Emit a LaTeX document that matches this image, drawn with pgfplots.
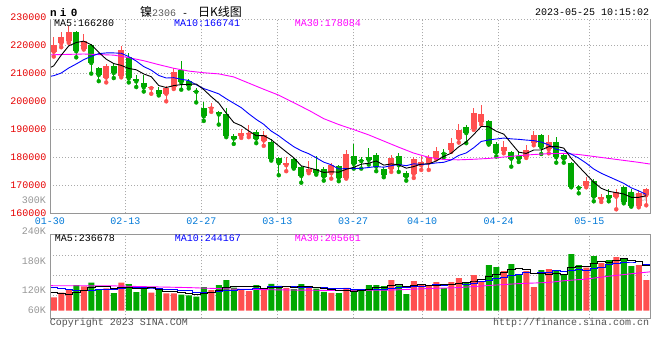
\documentclass[border=0pt]{standalone}
\usepackage{pgfplots}
\pgfplotsset{compat=1.18}
\usepackage{pgfplotstable}
\usepackage{fontspec}
\setmainfont{Liberation Mono}
\newfontfamily\cjk{Noto Sans CJK SC}
\newfontfamily\sansf{Liberation Sans}
\definecolor{cred}{RGB}{255,80,80}
\definecolor{cgreen}{RGB}{0,168,0}
\definecolor{gridgray}{RGB}{170,170,170}
\definecolor{framegray}{RGB}{150,150,150}
\definecolor{ylred}{RGB}{230,0,0}
\definecolor{xblue}{RGB}{0,120,215}
\definecolor{kgray}{RGB}{150,150,150}
\definecolor{mablue}{RGB}{0,0,255}
\definecolor{mamag}{RGB}{255,0,255}
\definecolor{copygray}{RGB}{80,80,80}
\definecolor{titlegray}{RGB}{90,90,90}

% price candles: i open high low close
\pgfplotstableread{
i O H L C
0 217700 223100 216000 220100
1 220700 224700 219300 222900
2 221400 226800 220900 224800
4 218800 224100 218500 221700
7 208500 213300 206750 212500
9 209050 219800 208550 218450
13 204700 205450 202700 205200
15 202700 205300 200000 204600
16 205000 211800 204400 210600
21 197450 199400 196250 197950
25 187670 190070 186950 188850
26 188150 191500 187200 188640
28 186000 189350 184100 187900
31 177180 180050 175040 177900
34 174790 178620 174320 175970
37 174320 177900 172390 177400
39 172640 182660 172390 181230
45 175970 180980 174790 179800
48 174070 180260 172640 179550
49 177180 180510 175500 178370
50 178120 180980 175500 180050
51 179800 183840 179330 182410
53 182660 186960 181950 185270
54 186700 191720 185270 189820
56 190290 197700 189820 195800
57 192690 198660 191720 195550
60 182380 185710 181430 183570
63 180240 184520 179760 182620
64 185240 189520 184290 187860
66 182860 187860 181430 185480
71 169760 173100 169290 171430
73 165000 166900 164050 165710
75 165950 168570 161430 167620
78 162620 168330 162140 167380
79 166430 169050 162860 168810
}\redc
\pgfplotstableread{
i O H L C
3 224800 225000 215700 217860
5 220000 220300 209900 213700
6 212000 212200 207200 209400
8 212500 213450 208300 210100
10 215700 217300 206750 208200
11 207800 209500 205100 207100
12 206500 209500 203500 205000
14 204150 205100 202100 202700
17 211300 214300 204150 206750
18 207350 208100 204600 205600
19 203800 204750 199600 203400
20 197450 199850 193000 194600
22 196250 196400 191700 195300
23 195550 197450 187200 187670
24 187670 188400 184800 186700
27 189100 189820 185060 186700
29 185500 186500 178830 179330
30 179800 180260 173600 177900
32 179550 180050 175970 176220
33 176680 176900 170950 173350
35 175750 180500 173820 174320
36 175750 176470 171670 173100
38 176930 177100 171460 172640
40 180510 184810 175970 177650
41 179080 180260 175970 178650
42 180050 183380 177400 179080
43 181000 181700 175040 176680
44 175970 176680 172890 173820
46 180510 181700 174790 177180
47 174320 175250 171670 173100
52 181700 183130 180050 181230
55 191000 191500 185060 188640
58 192940 193400 184560 184810
59 184810 185530 180260 181700
61 181900 182380 176670 179520
62 180480 182140 178330 179520
65 188100 188300 181190 183570
67 185480 187140 178090 180000
68 180950 181100 178090 179520
69 177860 178330 169290 169520
70 169520 170240 167140 169050
72 171430 172140 164290 165950
74 166670 168570 164290 165480
76 169290 169760 163570 164050
77 167620 168570 162380 162620
}\greenc

% price moving averages
\pgfplotstableread{
i ma5 ma10
-0.5 212000 208900
0 212700 209150
1 216500 210100
2 219800 211900
3 221000 213340
4 221492 214880
5 220192 216070
6 217492 217030
7 215032 217280
8 213480 217280
9 212830 217161
10 211730 215961
11 211270 214381
12 209770 212401
13 208790 211135
14 205640 209235
15 204920 208325
16 205620 208445
17 205970 207870
18 206050 207420
19 206190 205915
20 204190 204555
21 201660 203640
22 199370 202670
23 195784 200917
24 192444 199317
25 191294 197742
26 189432 195546
27 187712 193541
28 187758 191771
29 186284 189364
30 184094 187694
31 181946 185689
32 179850 183781
33 176940 182349
34 176268 181276
35 175552 179823
36 174592 178269
37 174828 177339
38 174686 175813
39 175738 176003
40 176404 175978
41 177550 176071
42 177886 176357
43 178694 176690
44 177212 176475
45 177642 177023
46 177312 177431
47 176116 177001
48 176690 177692
49 177600 177406
50 177650 177646
51 178696 178004
52 180322 178219
53 181466 179078
54 183756 180678
55 185474 181562
56 188152 183424
57 191016 185669
58 190924 186195
59 189300 186528
60 188286 186880
61 185030 186591
62 181824 186420
63 181386 186155
64 182618 185959
65 182618 185452
66 183810 184420
67 183906 182865
68 183286 182336
69 179618 181118
70 176714 179700
71 173904 177900
72 171094 175800
73 168930 174300
74 167860 173100
75 167380 171900
76 166900 170700
77 165710 169100
78 165710 168000
79 166280 166741
}\pma

\pgfplotstableread{
i ma30
-0.5 216600
4 216900
8 216500
10 215600
12 214500
14 213100
16 211800
18 210800
20 210200
22 209800
24 208700
26 206500
28 204300
30 202200
32 199500
34 196800
36 193800
38 191700
40 189900
42 188000
44 185800
46 183600
48 181500
50 180000
52 179200
54 179100
56 179300
58 179600
60 180100
62 180600
64 181000
66 181300
68 181400
70 181000
72 180300
74 179600
76 178900
78 178200
79.5 177600
}\pmathirty

% volume (thousands of lots)
\pgfplotstableread{
i V
0 70.7
1 95
2 113
4 128.7
7 118.2
9 147.7
13 95
15 91.8
16 91.8
21 109.2
25 114.5
26 104
28 114.5
31 121
34 120.5
37 94
39 120
45 161.9
48 156.7
49 140.8
50 135.6
51 151.4
53 151.4
54 172.5
56 188.3
57 151.4
60 209.4
63 209.4
64 125
66 220
71 227
73 251.6
75 283.2
78 241
79 161.9
}\redv
\pgfplotstableread{
i V
3 135.6
5 147.7
6 109.2
8 93.4
10 140.8
11 98.6
12 118.2
14 109.2
17 84.4
18 81.2
19 73.9
20 125
22 135.6
23 162
24 121.3
27 135.6
29 141
30 131
32 114.5
33 140.8
35 117
36 100
38 93
40 109.2
41 112.7
42 135.6
43 135.6
44 130.3
46 133.8
47 88.1
52 119.7
55 151.4
58 241
59 230.5
61 246.3
62 193.6
65 214.7
67 209.4
68 193.6
69 299
70 241
72 288.5
74 267.4
76 278
77 235.8
}\greenv

\pgfplotstableread{
i v5 v10
-0.5 95 121
0 95 121
1 90 115
2 88 110
3 98 107
4 108.6 106
5 124 108
6 126.8 110
7 127.9 112
8 119.4 114
9 123.2 115.9
10 121.9 122.9
11 119.7 123.3
12 119.7 123.8
13 120.1 119.8
14 112.4 117.8
15 102.6 112.2
16 101.2 110.5
17 94.4 107.1
18 91.7 105.9
19 84.6 98.5
20 91.3 96.9
21 94.7 98
22 105 99.7
23 121.1 106.4
24 130.6 107.6
25 128.5 109.9
26 127.5 111.1
27 127.5 116.2
28 118 119.6
29 121.9 126.3
30 125.2 126.9
31 128.6 128.1
32 124.4 125.9
33 129.7 123.8
34 125.6 123.7
35 122.8 124
36 118.6 123.6
37 114.5 119.4
38 104.9 117.3
39 104.8 115.2
40 103.2 113
41 105.8 112.2
42 114.1 114.3
43 122.6 113.8
44 124.7 114.7
45 135.2 119.2
46 139.4 122.6
47 129.9 122
48 134.2 128.4
49 136.3 130.5
50 131 133.1
51 134.5 137
52 140.8 135.4
53 139.8 137
54 146.1 141.2
55 149.3 140.1
56 156.7 145.6
57 163 151.9
58 180.9 160.4
59 192.5 169.3
60 204.1 176.7
61 215.7 186.2
62 224.2 193.6
63 217.8 199.4
64 196.7 194.6
65 197.8 201
66 192.5 204.1
67 195.7 209.9
68 192.5 205.2
69 227.3 212
70 232.6 215.2
71 234.7 213.6
72 250.5 223.1
73 262.1 227.3
74 255.8 241.6
75 264.2 248.4
76 273.7 254.2
77 263.2 256.9
78 261.1 261.6
79 236.7 244.2
79.5 236.7 244.2
}\vma

\pgfplotstableread{
i v30
-0.5 132
8 131
12 127
18 122
24 114
30 110
37 107
45 109
50 117
54 122
58 133
62 143
66 149
68 158
71 167
74 182
77 195
79.5 205
}\vmathirty

\begin{document}
\begin{tikzpicture}
\useasboundingbox (0pt,0pt) rectangle (660pt,360pt);
% faint watermark
\node[opacity=0.35, text=gray, font=\sansf\bfseries\itshape\fontsize{14}{14}\selectfont] at (634pt,164pt) {sina};

% ---------------- price panel ----------------
\begin{axis}[
  at={(50pt,146.7pt)}, anchor=south west,
  scale only axis, width=600pt, height=194.3pt,
  xmin=-0.5, xmax=79.5, ymin=160000, ymax=229400,
  axis line style={draw=none},
  clip mode=individual,
  xtick={-0.5,9.54,19.67,29.8,39.9,49.1,59.3,71.4},
  xticklabels={01-30,02-13,02-27,03-13,03-27,04-10,04-24,05-15},
  xticklabel style={text=xblue, anchor=center, yshift=-7.7pt},
  ytick={160000,170000,180000,190000,200000,210000,220000},
  yticklabels={160000,170000,180000,190000,200000,210000,220000},
  yticklabel style={text=ylred, anchor=east},
  scaled y ticks=false,
  major tick length=0pt,
  grid=major,
  grid style={gridgray, line width=0.8pt, dash pattern=on 1pt off 2pt},
  tick label style={font=\fontsize{10}{12}\selectfont},
]
% wicks
\addplot[cred, only marks, mark=none, error bars/.cd, y dir=plus, y explicit, error mark=none,
  error bar style={draw=cred, line width=1pt}]
  table[x=i, y=L, y error expr=\thisrow{H}-\thisrow{L}] {\redc};
\addplot[cgreen, only marks, mark=none, error bars/.cd, y dir=plus, y explicit, error mark=none,
  error bar style={draw=cgreen, line width=1pt}]
  table[x=i, y=L, y error expr=\thisrow{H}-\thisrow{L}] {\greenc};
% bodies
\addplot[cred, only marks, mark=none, error bars/.cd, y dir=plus, y explicit, error mark=none,
  error bar style={draw=cred, line width=5.8pt}]
  table[x=i, y=O, y error expr=\thisrow{C}-\thisrow{O}] {\redc};
\addplot[cgreen, only marks, mark=none, error bars/.cd, y dir=plus, y explicit, error mark=none,
  error bar style={draw=cgreen, line width=5.8pt}]
  table[x=i, y=C, y error expr=\thisrow{O}-\thisrow{C}] {\greenc};
% moving averages
\addplot[mamag, line width=0.9pt, mark=none] table[x=i, y=ma30] {\pmathirty};
\addplot[mablue, line width=0.9pt, mark=none] table[x=i, y=ma10] {\pma};
\addplot[black, line width=0.9pt, mark=none] table[x=i, y=ma5] {\pma};
% frame
\draw[framegray, line width=1pt] (rel axis cs:0,1) -- (rel axis cs:0,0) -- (rel axis cs:1,0) -- (rel axis cs:1,1);
\draw[gridgray, line width=0.8pt, dash pattern=on 1pt off 2pt] (rel axis cs:0,1) -- (rel axis cs:1,1);
\end{axis}

% ---------------- volume panel ----------------
\begin{axis}[
  at={(50pt,41.7pt)}, anchor=south west,
  scale only axis, width=600pt, height=84pt,
  xmin=-0.5, xmax=79.5, ymin=-40, ymax=403,
  axis line style={draw=none},
  clip mode=individual,
  xtick={-0.5,9.54,19.67,29.8,39.9,49.1,59.3,71.4},
  xticklabels={},
  ytick={81.2,186.7,293.8},
  yticklabels={},
  major tick length=0pt,
  grid=major,
  grid style={gridgray, line width=0.8pt, dash pattern=on 1pt off 2pt},
]
\addplot[ybar, bar width=6pt, bar shift=0pt, fill=cred, draw=none] table[x=i, y=V] {\redv};
\addplot[ybar, bar width=6pt, bar shift=0pt, fill=cgreen, draw=none] table[x=i, y=V] {\greenv};
\addplot[mamag, line width=0.9pt, mark=none] table[x=i, y=v30] {\vmathirty};
\addplot[mablue, line width=0.9pt, mark=none, const plot mark mid] table[x=i, y=v10] {\vma};
\addplot[black, line width=0.9pt, mark=none, const plot mark mid] table[x=i, y=v5] {\vma};
\draw[framegray, line width=1pt] (rel axis cs:0,0) rectangle (rel axis cs:1,1);
\end{axis}

% ---------------- texts ----------------
\begin{scope}[every node/.style={inner sep=0pt, font=\fontsize{10}{12}\selectfont}]
\node[anchor=base west, font=\fontsize{11}{12}\selectfont\bfseries] at (50pt,344pt) {n\hspace{3pt}i\hspace{4.5pt}0};
\node[anchor=base west] at (140pt,343.8pt) {{\cjk\fontsize{12}{12}\selectfont 镍}{\color{titlegray}2306}\hspace{6pt}-\hspace{10pt}{\cjk\fontsize{12}{12}\selectfont 日K线图}};
\node[anchor=base east] at (649.3pt,344.7pt) {2023-05-25 10:15:02};
% price legend
\node[anchor=base west, text=black] at (54pt,333.2pt) {MA5:166280};
\node[anchor=base west, text=mablue] at (174pt,333.2pt) {MA10:166741};
\node[anchor=base west, text=mamag] at (294.7pt,333.2pt) {MA30:178084};
% extra axis labels
\node[anchor=east, text=ylred] at (46.7pt,342.7pt) {230000};
\node[anchor=east, text=kgray] at (46.2pt,159.7pt) {300K};
\node[anchor=east, text=kgray] at (46.2pt,129.2pt) {240K};
\node[anchor=east, text=kgray] at (46.2pt,98.7pt) {180K};
\node[anchor=east, text=kgray] at (46.2pt,69.7pt) {120K};
\node[anchor=east, text=kgray] at (46.2pt,50pt) {60K};
% volume legend
\node[anchor=base west, text=black] at (54.7pt,118.4pt) {MA5:236678};
\node[anchor=base west, text=mablue] at (174.7pt,118.4pt) {MA10:244167};
\node[anchor=base west, text=mamag] at (294.7pt,118.4pt) {MA30:205661};
% footer
\node[anchor=base west, text=copygray] at (49.7pt,34.7pt) {Copyright 2023 SINA.COM};
\node[anchor=base east, text=copygray] at (649.3pt,34.7pt) {http://finance.sina.com.cn};
\end{scope}
\end{tikzpicture}
\end{document}
